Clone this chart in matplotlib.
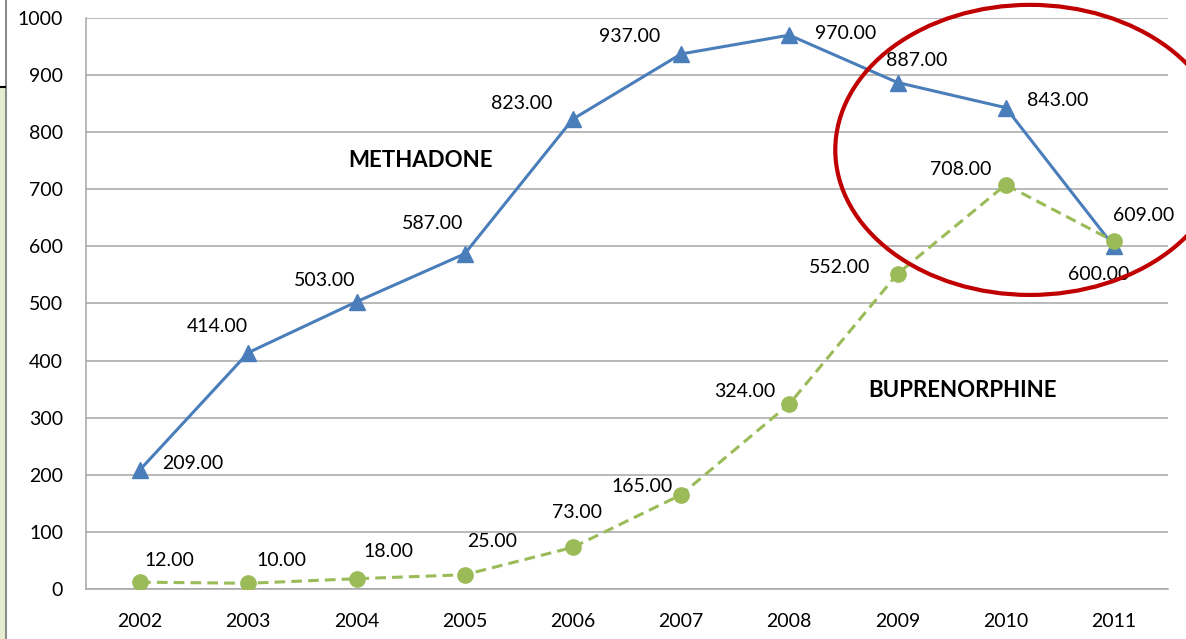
import matplotlib
matplotlib.use("Agg")
import matplotlib.pyplot as plt
from matplotlib.patches import Ellipse, Rectangle
from matplotlib.lines import Line2D

years = ["2002", "2003", "2004", "2005", "2006", "2007", "2008", "2009", "2010", "2011"]
methadone = [209, 414, 503, 587, 823, 937, 970, 887, 843, 600]
buprenorphine = [12, 10, 18, 25, 73, 165, 324, 552, 708, 609]

# label offsets in pixels (dx, dy)
meth_off = [(53, 6), (-31, 26), (-32, 21), (-32, 30), (-51, 16),
            (-51, 17), (56, 2), (19, 22), (52, 7), (-15, -28)]
bup_off = [(29, 22), (33, 23), (32, 27), (27, 33), (4, 35),
           (-39, 8), (-45, 12), (-58, 6), (-45, 15), (30, 26)]

plt.rcParams["font.family"] = ["Lato", "DejaVu Sans"]

W, H = 1186, 639
fig = plt.figure(figsize=(W / 100, H / 100), dpi=100)
ax = fig.add_axes([86 / W, 1 - 589 / H, (1168 - 86) / W, (589 - 18) / H])

x = list(range(len(years)))
blue = "#4A7EBB"
green = "#9BBB59"

ax.plot(x, methadone, color=blue, lw=2.2, marker="^", ms=12, zorder=3)
ax.plot(x, buprenorphine, color=green, lw=2.2, ls=(0, (3.5, 2)), marker="o",
        ms=11, zorder=3)

for i in x:
    ax.annotate(f"{methadone[i]:.2f}", (i, methadone[i]), xytext=meth_off[i],
                textcoords="offset pixels", ha="center", va="center",
                fontsize=14, color="black", zorder=4)
    ax.annotate(f"{buprenorphine[i]:.2f}", (i, buprenorphine[i]), xytext=bup_off[i],
                textcoords="offset pixels", ha="center", va="center",
                fontsize=14, color="black", zorder=4)

ax.text(2.594, 751, "METHADONE", ha="center", va="center", fontsize=16,
        fontweight="bold")
ax.text(7.597, 348, "BUPRENORPHINE", ha="center", va="center", fontsize=16,
        fontweight="bold")

ax.add_patch(Ellipse((8.225, 769), 3.6, 508, fill=False, ec="#C00000", lw=3,
                     clip_on=False, zorder=5))

ax.set_xlim(-0.5, 9.5)
ax.set_ylim(0, 1000)
ax.set_yticks(range(0, 1001, 100))
ax.set_xticks(x)
ax.set_xticklabels(years)
ax.tick_params(axis="both", length=0, labelsize=14, colors="black")
ax.tick_params(axis="y", pad=16.5)
ax.tick_params(axis="x", pad=17.5)
ax.grid(axis="y", color="#A6A6A6", lw=1.1)
ax.set_axisbelow(True)
for s in ["top", "right"]:
    ax.spines[s].set_visible(False)
for s in ["left", "bottom"]:
    ax.spines[s].set_color("#A6A6A6")
    ax.spines[s].set_linewidth(1.1)

# window edge artefacts on the left
fig.add_artist(Rectangle((0, 0), 5 / W, 1 - 88 / H, transform=fig.transFigure,
                         color="#E4EDD0", zorder=0))
fig.add_artist(Line2D([5.5 / W, 5.5 / W], [0, 1], transform=fig.transFigure,
                      color="#8C8C8C", lw=1.5))
fig.add_artist(Line2D([0, 5 / W], [1 - 87 / H, 1 - 87 / H],
                      transform=fig.transFigure, color="black", lw=1.5))

fig.savefig("out.png", dpi=100)
